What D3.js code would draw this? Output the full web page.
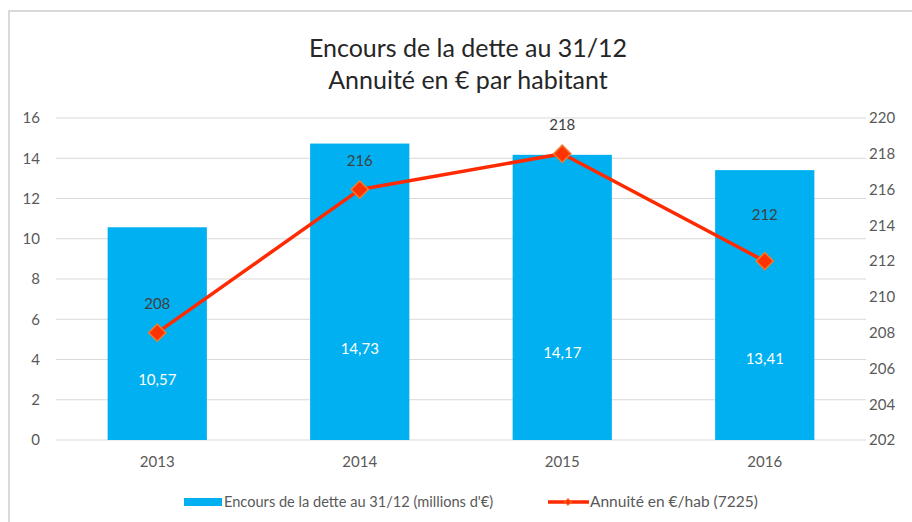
<!DOCTYPE html>
<html>
<head>
<meta charset="utf-8">
<script src="https://cdn.jsdelivr.net/npm/d3@7"></script>
<style>
  body { margin: 0; background: #fff; }
  svg text { font-family: Lato, "Open Sans", sans-serif; }
</style>
</head>
<body>
<div id="chart"></div>
<script>
var years = ["2013", "2014", "2015", "2016"];
var encours = [10.57, 14.73, 14.17, 13.41];
var annuite = [208, 216, 218, 212];
var leftTicks = [0, 2, 4, 6, 8, 10, 12, 14, 16];
var rightTicks = [202, 204, 206, 208, 210, 212, 214, 216, 218, 220];
var titleLines = ["Encours de la dette au 31/12", "Annuité en € par habitant"];
var legendLabels = ["Encours de la dette au 31/12 (millions d'€)", "Annuité en €/hab (7225)"];

var width = 912, height = 522;
var padding = {top: 118, right: 46, bottom: 82, left: 56};
var barColor = "#00b0f0", lineColor = "#ff2a00";

var svg = d3.select("#chart")
            .append("svg")
              .attr("width", width)
              .attr("height", height);

// frame
svg.append("rect")
   .attr("x", 9).attr("y", 11)
   .attr("width", width).attr("height", height)
   .attr("fill", "none")
   .attr("stroke", "#d9d9d9")
   .attr("stroke-width", 2);

var xScale = d3.scaleBand()
               .domain(years)
               .range([padding.left, width - padding.right])
               .paddingInner(0.51)
               .paddingOuter(0.255);

var yLeft = d3.scaleLinear()
              .domain([0, 16])
              .range([height - padding.bottom, padding.top]);

var yRight = d3.scaleLinear()
               .domain([202, 220])
               .range([height - padding.bottom, padding.top]);

// title
svg.selectAll(".title")
   .data(titleLines)
   .enter()
   .append("text")
     .attr("class", "title")
     .attr("x", 468)
     .attr("y", (d, i) => 57 + i * 32)
     .attr("text-anchor", "middle")
     .attr("font-size", 25)
     .attr("fill", "#262626")
     .text(d => d);

// gridlines
svg.selectAll(".grid")
   .data(leftTicks)
   .enter()
   .append("line")
     .attr("class", "grid")
     .attr("x1", padding.left)
     .attr("x2", width - padding.right)
     .attr("y1", d => yLeft(d))
     .attr("y2", d => yLeft(d))
     .attr("stroke", "#d9d9d9")
     .attr("stroke-width", 1);

// axes
var axisLeft = svg.append("g")
   .attr("transform", "translate(" + (padding.left - 10) + ",0)")
   .call(d3.axisLeft(yLeft).tickValues(leftTicks).tickSize(0).tickPadding(6));
var axisRight = svg.append("g")
   .attr("transform", "translate(" + (width - padding.right) + ",0)")
   .call(d3.axisRight(yRight).tickValues(rightTicks).tickSize(0).tickPadding(3));
var axisBottom = svg.append("g")
   .attr("transform", "translate(0," + (height - padding.bottom) + ")")
   .call(d3.axisBottom(xScale).tickSize(0).tickPadding(16));

[axisLeft, axisRight, axisBottom].forEach(function(g) {
  g.select(".domain").remove();
  g.selectAll("text")
   .attr("font-size", 15)
   .attr("fill", "#595959")
   .style("font-family", "Lato, 'Open Sans', sans-serif");
});

// bars
svg.selectAll(".bar")
   .data(encours)
   .enter()
   .append("rect")
     .attr("class", "bar")
     .attr("x", (d, i) => xScale(years[i]))
     .attr("y", d => yLeft(d))
     .attr("width", xScale.bandwidth())
     .attr("height", d => yLeft(0) - yLeft(d))
     .attr("fill", barColor);

svg.selectAll(".barLabel")
   .data(encours)
   .enter()
   .append("text")
     .attr("class", "barLabel")
     .attr("x", (d, i) => xScale(years[i]) + xScale.bandwidth() / 2)
     .attr("y", d => yLeft(d * 0.36 - 0.8) + 5)
     .attr("text-anchor", "middle")
     .attr("font-size", 15)
     .attr("fill", "#ffffff")
     .text(d => d.toFixed(2).replace(".", ","));

// line
var line = d3.line()
             .x((d, i) => xScale(years[i]) + xScale.bandwidth() / 2)
             .y(d => yRight(d));

svg.append("path")
   .datum(annuite)
   .attr("d", line)
   .attr("fill", "none")
   .attr("stroke", lineColor)
   .attr("stroke-width", 3.5)
   .attr("stroke-linejoin", "round");

var diamond = d3.symbol().type(d3.symbolDiamond2).size(190);

svg.selectAll(".marker")
   .data(annuite)
   .enter()
   .append("path")
     .attr("class", "marker")
     .attr("d", diamond)
     .attr("transform", (d, i) => "translate(" + (xScale(years[i]) + xScale.bandwidth() / 2) + "," + yRight(d) + ")")
     .attr("fill", "#ff3300")
     .attr("stroke", "#ed7d31")
     .attr("stroke-width", 1.5);

svg.selectAll(".lineLabel")
   .data(annuite)
   .enter()
   .append("text")
     .attr("class", "lineLabel")
     .attr("x", (d, i) => xScale(years[i]) + xScale.bandwidth() / 2)
     .attr("y", (d, i) => yRight(d) - (i == 3 ? 41 : 24))
     .attr("text-anchor", "middle")
     .attr("font-size", 15)
     .attr("fill", "#404040")
     .text(d => d);

// legend
var legend = svg.append("g").attr("transform", "translate(0,502)");
legend.append("rect")
      .attr("x", 184).attr("y", -4)
      .attr("width", 38).attr("height", 8)
      .attr("fill", barColor);
legend.append("text")
      .attr("x", 224).attr("y", 5)
      .attr("font-size", 14.6)
      .attr("fill", "#595959")
      .text(legendLabels[0]);
legend.append("line")
      .attr("x1", 548).attr("x2", 589)
      .attr("y1", 0).attr("y2", 0)
      .attr("stroke", lineColor)
      .attr("stroke-width", 3.5);
legend.append("path")
      .attr("d", d3.symbol().type(d3.symbolDiamond2).size(30))
      .attr("transform", "translate(568,0)")
      .attr("fill", "#ff3300")
      .attr("stroke", "#ed7d31")
      .attr("stroke-width", 1);
legend.append("text")
      .attr("x", 590).attr("y", 5)
      .attr("font-size", 15.5)
      .attr("fill", "#595959")
      .text(legendLabels[1]);
</script>
</body>
</html>
